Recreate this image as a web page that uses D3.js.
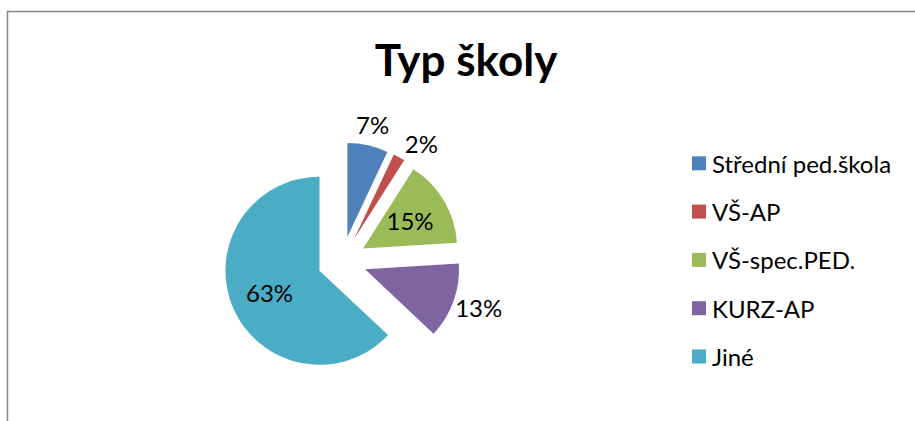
<!DOCTYPE html>
<html>
<head>
<meta charset="utf-8">
<script src="https://cdn.jsdelivr.net/npm/d3@7"></script>
<style>
  html, body { margin: 0; padding: 0; background: #fff; }
  svg { display: block; }
  text { font-family: Lato, "Open Sans", "DejaVu Sans", sans-serif; }
</style>
</head>
<body>
<svg id="chart" width="915" height="421"></svg>
<script>
// Chart data
const title = "Typ školy";
const categories = ["Střední ped.škola", "VŠ-AP", "VŠ-spec.PED.", "KURZ-AP", "Jiné"];
const shares = [7, 2, 15, 13, 63];
const colors = ["#4F81BD", "#C0504D", "#9BBB59", "#8064A2", "#4BACC6"];

// Layout
const W = 915, H = 421;
const cx = 342, cy = 261;
const radius = 94;
const explode = 24.5;
const insideLabelR = 79;
const outsideLabelR = 140;
const outsideLabels = new Set(["Střední ped.škola", "VŠ-AP", "KURZ-AP"]);
const labelShift = { "VŠ-AP": [12, 5], "KURZ-AP": [5, -1] };

const svg = d3.select("#chart");

// Chart area frame (only top and left edges fall inside the page)
svg.append("path")
  .attr("d", `M7.5,${H} V11.5 H${W}`)
  .attr("fill", "none")
  .attr("stroke", "#868686")
  .attr("stroke-width", 1.5);

// Title
svg.append("text")
  .attr("x", 466)
  .attr("y", 76)
  .attr("text-anchor", "middle")
  .attr("font-size", 44)
  .attr("font-weight", 700)
  .attr("fill", "#000")
  .text(title);

const data = categories.map((c, i) => ({ name: c, value: shares[i], color: colors[i] }));

const pie = d3.pie().value(d => d.value).sort(null).startAngle(0).endAngle(2 * Math.PI);
const arcs = pie(data);
const arc = d3.arc().innerRadius(0).outerRadius(radius);

const g = svg.append("g").attr("transform", `translate(${cx},${cy})`);

const mid = a => (a.startAngle + a.endAngle) / 2;
const polar = (ang, r) => [Math.sin(ang) * r, -Math.cos(ang) * r];

g.selectAll("path.slice")
  .data(arcs)
  .join("path")
  .attr("class", "slice")
  .attr("d", arc)
  .attr("fill", d => d.data.color)
  .attr("transform", d => {
    const [dx, dy] = polar(mid(d), explode);
    return `translate(${dx},${dy})`;
  });

// Percentage labels
g.selectAll("text.lbl")
  .data(arcs)
  .join("text")
  .attr("class", "lbl")
  .attr("text-anchor", "middle")
  .attr("dominant-baseline", "central")
  .attr("font-size", 24)
  .attr("fill", "#000")
  .attr("transform", d => {
    const r = outsideLabels.has(d.data.name) ? outsideLabelR : insideLabelR;
    let [x, y] = polar(mid(d), r);
    const s = labelShift[d.data.name];
    if (s) { x += s[0]; y += s[1]; }
    return `translate(${x},${y})`;
  })
  .text(d => d3.format(".0f")(d.data.value) + "%");

// Legend
const legend = svg.append("g").attr("transform", "translate(692,163.3)");
const rowH = 48.3;
const item = legend.selectAll("g.item")
  .data(data)
  .join("g")
  .attr("class", "item")
  .attr("transform", (d, i) => `translate(0,${i * rowH})`);

item.append("rect")
  .attr("x", 0).attr("y", -7)
  .attr("width", 14).attr("height", 14)
  .attr("fill", d => d.color);

item.append("text")
  .attr("x", 20)
  .attr("y", 0)
  .attr("dominant-baseline", "central")
  .attr("font-size", 24)
  .attr("fill", "#000")
  .text(d => d.name);
</script>
</body>
</html>
